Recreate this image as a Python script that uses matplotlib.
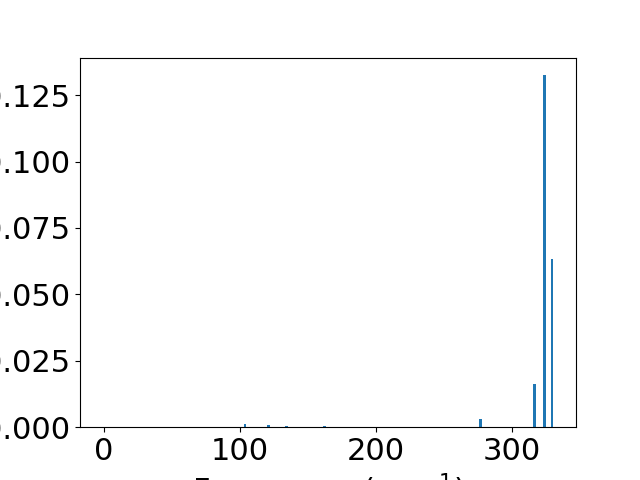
import matplotlib
matplotlib.use('Agg')
import matplotlib.pyplot as plt

plt.rcParams['font.size'] = 22

# peak positions (cm^-1) and normalised intensities
frequency = [0, 103.7, 121, 134, 162, 276.6, 316.4, 323.8, 329.4]
intensity = [0.0, 0.0011, 0.0008, 0.0004, 0.0004, 0.003, 0.0162, 0.1325, 0.0633]

fig = plt.figure(figsize=(6.4, 4.8), dpi=100)
plt.bar(frequency, intensity, width=2.0)
plt.xlabel('Frequency (cm$^{-1}$)')
plt.ylabel('Intensity')
plt.savefig('out.png', dpi=100)
